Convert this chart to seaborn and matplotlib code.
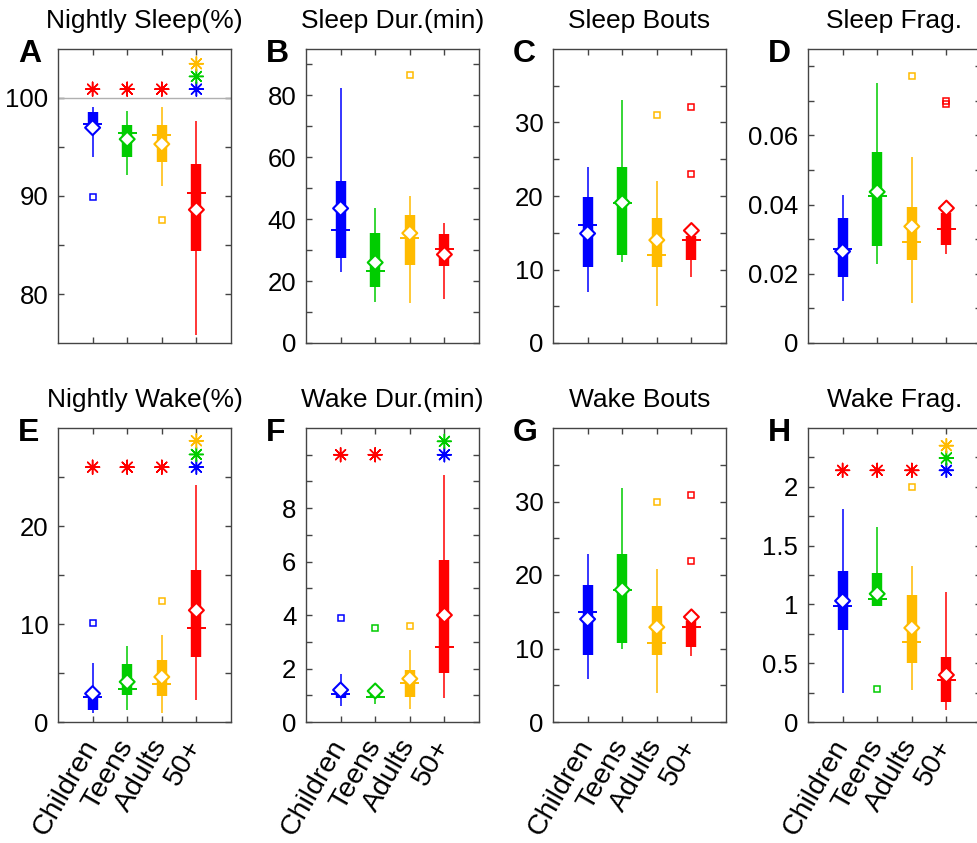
import matplotlib
matplotlib.use("Agg")
import matplotlib.pyplot as plt
import numpy as np
import pandas as pd
import seaborn as sns

# ---- groups ----
groups = ["Children", "Teens", "Adults", "50+"]
group_colors = ["#0000FF", "#00CC00", "#FFBB00", "#FF0000"]

titles = ["Nightly Sleep(%)", "Sleep Dur.(min)", "Sleep Bouts", "Sleep Frag.",
          "Nightly Wake(%)", "Wake Dur.(min)", "Wake Bouts", "Wake Frag."]
letters = ["A", "B", "C", "D", "E", "F", "G", "H"]

# ---- box statistics, one row per panel (Children, Teens, Adults, 50+) ----
whisker_low = [
    [94.0, 92.1, 91.0, 75.8],
    [23.1, 13.2, 12.9, 14.1],
    [7.0, 11.0, 5.0, 9.0],
    [0.012, 0.0229, 0.0115, 0.0258],
    [0.9, 1.2, 0.9, 2.2],
    [0.6, 0.66, 0.47, 0.91],
    [5.9, 9.9, 3.9, 9.0],
    [0.246, 0.99, 0.27, 0.104],
]
quart_1 = [
    [97.2, 94.0, 93.5, 84.4],
    [27.5, 18.1, 25.1, 24.8],
    [10.3, 12.0, 10.3, 11.3],
    [0.019, 0.0279, 0.0241, 0.0284],
    [1.2, 2.8, 2.65, 6.6],
    [0.89, 0.88, 0.94, 1.82],
    [9.1, 10.8, 9.1, 10.2],
    [0.78, 0.99, 0.50, 0.166],
]
medians = [
    [97.3, 96.4, 96.2, 90.3],
    [36.6, 23.4, 34.0, 30.3],
    [16.0, 19.1, 12.0, 14.05],
    [0.0272, 0.0426, 0.0292, 0.0329],
    [2.6, 3.4, 3.9, 9.6],
    [1.03, 0.95, 1.45, 2.8],
    [14.9, 18.0, 10.8, 12.9],
    [0.99, 1.05, 0.68, 0.36],
]
quart_3 = [
    [98.6, 97.2, 97.2, 93.3],
    [52.5, 35.5, 41.2, 35.1],
    [19.8, 24.0, 17.0, 14.6],
    [0.036, 0.0553, 0.0394, 0.0375],
    [3.0, 5.9, 6.3, 15.5],
    [1.2, 1.02, 1.95, 6.06],
    [18.6, 22.8, 15.8, 13.8],
    [1.285, 1.27, 1.08, 0.556],
]
whisker_high = [
    [99.05, 98.7, 99.1, 97.7],
    [82.4, 43.7, 47.6, 38.7],
    [24.0, 33.1, 22.0, 15.5],
    [0.0428, 0.0751, 0.0538, 0.040],
    [6.0, 7.8, 8.9, 24.2],
    [1.78, 1.3, 2.7, 9.26],
    [22.8, 31.8, 20.8, 14.8],
    [1.81, 1.66, 1.325, 1.107],
]
means = [
    [96.97, 95.8, 95.3, 88.6],
    [43.5, 26.0, 35.5, 28.6],
    [14.9, 19.1, 14.0, 15.3],
    [0.0265, 0.0437, 0.0337, 0.039],
    [2.9, 4.1, 4.6, 11.4],
    [1.2, 1.16, 1.62, 4.0],
    [14.0, 18.0, 12.9, 14.3],
    [1.03, 1.09, 0.80, 0.40],
]

# outliers: (group index, value)
outliers = [
    [(0, 89.9), (2, 87.6)],
    [(2, 86.7)],
    [(2, 31.0), (3, 32.1), (3, 23.0)],
    [(2, 0.0771), (3, 0.0700), (3, 0.0690)],
    [(0, 10.1), (2, 12.3)],
    [(0, 3.9), (1, 3.5), (2, 3.6)],
    [(2, 29.9), (3, 30.9), (3, 21.9)],
    [(1, 0.28), (2, 2.0)],
]

# significance stars: (position group, compared-with group, y)
stars = [
    [(0, 3, 100.9), (1, 3, 100.9), (2, 3, 100.9), (3, 0, 100.9), (3, 1, 102.2), (3, 2, 103.5)],
    [],
    [],
    [],
    [(0, 3, 26.0), (1, 3, 26.0), (2, 3, 26.0), (3, 0, 26.0), (3, 1, 27.3), (3, 2, 28.7)],
    [(0, 3, 10.0), (1, 3, 10.0), (3, 0, 10.0), (3, 1, 10.5)],
    [],
    [(0, 3, 2.14), (1, 3, 2.14), (2, 3, 2.14), (3, 0, 2.14), (3, 1, 2.245), (3, 2, 2.35)],
]

# ---- axis ranges and ticks ----
y_limits = [(75, 105), (0, 95), (0, 40), (0, 0.085), (0, 30), (0, 11), (0, 40), (0, 2.5)]
y_ticks = [
    [80, 85, 90, 95, 100],
    [0, 10, 20, 30, 40, 50, 60, 70, 80, 90],
    [0, 5, 10, 15, 20, 25, 30, 35],
    [0, 0.01, 0.02, 0.03, 0.04, 0.05, 0.06, 0.07, 0.08],
    [0, 5, 10, 15, 20, 25],
    [0, 1, 2, 3, 4, 5, 6, 7, 8, 9, 10],
    [0, 5, 10, 15, 20, 25, 30, 35],
    [0, 0.25, 0.5, 0.75, 1, 1.25, 1.5, 1.75, 2, 2.25],
]
y_tick_labels = [
    ["80", "", "90", "", "100"],
    ["0", "", "20", "", "40", "", "60", "", "80", ""],
    ["0", "", "10", "", "20", "", "30", ""],
    ["0", "", "0.02", "", "0.04", "", "0.06", "", ""],
    ["0", "", "10", "", "20", ""],
    ["0", "", "2", "", "4", "", "6", "", "8", "", ""],
    ["0", "", "10", "", "20", "", "30", ""],
    ["0", "", "0.5", "", "1", "", "1.5", "", "2", ""],
]
reference_line = [100, None, None, None, None, None, None, None]

# ---- style ----
sns.set_theme(style="ticks")
plt.rcParams["font.family"] = ["Liberation Sans", "DejaVu Sans"]
plt.rcParams["text.color"] = "black"
plt.rcParams["axes.titlecolor"] = "black"
palette = dict(zip(groups, group_colors))
edge = "#444444"

W, H = 978, 843
fig = plt.figure(figsize=(W / 100, H / 100), dpi=100)
lefts_px = [58, 306, 553, 808]
rows_px = [(49, 343), (428, 722)]
ax_w = 173

xs = np.arange(1, 5)

for k in range(8):
    r, c = divmod(k, 4)
    top, bot = rows_px[r]
    ax = fig.add_axes([lefts_px[c] / W, (H - bot) / H, ax_w / W, (bot - top) / H])

    if reference_line[k] is not None:
        ax.axhline(reference_line[k], color="#b0b0b0", lw=1.0, zorder=1)

    # whiskers, boxes, medians
    for i, g in enumerate(groups):
        col = palette[g]
        ax.vlines(xs[i], whisker_low[k][i], whisker_high[k][i], color=col, lw=1.1, zorder=2)
        ax.vlines(xs[i], quart_1[k][i], quart_3[k][i], color=col, lw=7.5, zorder=3)
        ax.hlines(medians[k][i], xs[i] - 0.27, xs[i] + 0.27, color=col, lw=1.4, zorder=4)

    # outliers
    for gi, v in outliers[k]:
        ax.plot(xs[gi], v, "s", ms=4.2, mfc="none", mec=group_colors[gi], mew=1.1, zorder=4)

    # means
    ax.scatter(xs, means[k], marker="D", s=58, facecolors="white",
               edgecolors=group_colors, linewidths=1.5, zorder=6)

    # significance stars
    if stars[k]:
        sdf = pd.DataFrame({
            "x": [xs[p] for p, _, _ in stars[k]],
            "y": [y for _, _, y in stars[k]],
            "group": [groups[q] for _, q, _ in stars[k]],
        })
        sns.scatterplot(data=sdf, x="x", y="y", hue="group", palette=palette,
                        marker=(8, 2, 0), s=100, linewidth=1.1, legend=False,
                        ax=ax, zorder=5)

    ax.set_xlim(0, 5)
    ax.set_ylim(*y_limits[k])
    ax.set_yticks(y_ticks[k])
    ax.set_yticklabels(y_tick_labels[k])
    ax.set_xticks(xs)
    ax.set_xlabel("")
    ax.set_ylabel("")
    if r == 1:
        ax.set_xticklabels(groups, rotation=60, ha="right", va="center",
                           rotation_mode="anchor", fontsize=20.5)
    else:
        ax.set_xticklabels([])

    ax.tick_params(axis="both", direction="in", length=4, width=1.0, color=edge,
                   top=True, right=True, labelcolor="black")
    ax.tick_params(axis="y", pad=7, labelsize=18.5)
    ax.tick_params(axis="x", pad=14)
    for sp in ax.spines.values():
        sp.set_visible(True)
        sp.set_color(edge)
        sp.set_linewidth(1.0)

    ax.set_title(titles[k], fontsize=19, pad=15, color="black")
    ax.text(-0.23, 0.955, letters[k], transform=ax.transAxes, fontsize=23,
            fontweight="bold", ha="left", va="baseline", color="black")

fig.savefig("out.png", dpi=100)
